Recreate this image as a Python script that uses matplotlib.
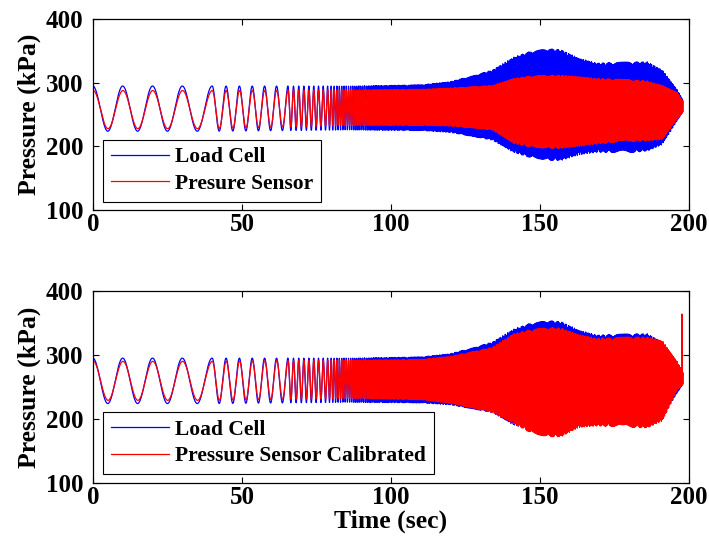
import matplotlib
matplotlib.use('Agg')
import matplotlib.pyplot as plt
import numpy as np

plt.rcParams['font.family'] = ['Liberation Serif', 'DejaVu Serif']
plt.rcParams['font.weight'] = 'bold'

# envelope knots (time in sec, pressure in kPa)
knot_t = [0, 40, 85, 110, 120, 134, 141, 147, 152, 157, 163, 169, 180, 186, 191, 196, 198]
load_hi = [295, 295, 295, 297, 302, 320, 340, 350, 354, 352, 339, 331, 333, 333, 320, 289, 272]
load_lo = [224, 224, 226, 225, 222, 210, 191, 182, 178, 178, 187, 191, 190, 193, 203, 241, 255]
sens_hi = [288, 288, 289, 290, 292, 296, 307, 311, 312, 312, 310, 307, 305, 303, 296, 285, 270]
sens_lo = [228, 228, 233, 233, 232, 226, 205, 199, 197, 197, 200, 204, 208, 209, 211, 243, 255]
cal_hi = [290, 290, 292, 293, 298, 312, 333, 340, 343, 342, 332, 326, 328, 328, 322, 289, 272]
cal_lo = [229, 229, 232, 230, 224, 210, 193, 178, 172, 172, 187, 189, 187, 186, 197, 245, 255]

# excitation frequency (Hz) read from peak spacing
freq_t = [0, 40, 40.1, 55, 65, 66, 78, 82, 100, 200]
freq_hz = [0.1, 0.1, 0.21, 0.24, 0.26, 0.55, 0.65, 1.2, 2.0, 3.0]

# calibrated sensor spikes at start and end
cal_start = [98, 330]
cal_end_spike = (197.6, 364)

t_end = 198.0
dt = 0.04
t = np.arange(0, t_end, dt)
f = np.interp(t, freq_t, freq_hz)
phase = 2 * np.pi * np.cumsum(f) * dt
phase = phase - phase[0]


def wave(hi, lo, lag=0.0):
    h = np.interp(t, knot_t, hi)
    l = np.interp(t, knot_t, lo)
    return (h + l) / 2 + (h - l) / 2 * np.cos(phase - lag)


load = wave(load_hi, load_lo)
sens = wave(sens_hi, sens_lo, 0.05)
cal = wave(cal_hi, cal_lo, 0.05)

t_cal = np.concatenate([[0, 0.01], t + 0.02])
cal = np.concatenate([cal_start, cal])
i = np.argmin(np.abs(t_cal - cal_end_spike[0]))
cal[i] = cal_end_spike[1]

fig = plt.figure(figsize=(7.09, 5.5), dpi=100)
ax1 = fig.add_axes([0.131, 0.618, 0.841, 0.347])
ax2 = fig.add_axes([0.131, 0.122, 0.841, 0.349])

ax1.plot(t, load, color='blue', lw=0.9, label='Load Cell')
ax1.plot(t, sens, color='red', lw=0.9, label='Presure Sensor')
ax2.plot(t, load, color='blue', lw=0.9, label='Load Cell')
ax2.plot(t_cal, cal, color='red', lw=0.9, label='Pressure Sensor Calibrated')

for ax, yb in ((ax1, 0.045), (ax2, 0.047)):
    ax.set_xlim(0, 200)
    ax.set_ylim(100, 400)
    ax.set_xticks([0, 50, 100, 150, 200])
    ax.set_yticks([100, 200, 300, 400])
    ax.tick_params(direction='in', top=True, right=True, length=4, width=0.8,
                   labelsize=18)
    ax.tick_params(axis='y', pad=7)
    ax.tick_params(axis='x', pad=2)
    for lab in ax.get_xticklabels() + ax.get_yticklabels():
        lab.set_fontweight('bold')
    for s in ax.spines.values():
        s.set_linewidth(0.9)
    ax.set_ylabel('Pressure (kPa)', fontsize=18.5, fontweight='bold', labelpad=3)
    leg = ax.legend(loc='lower left', bbox_to_anchor=(0.017, yb), fontsize=15.5,
                    fancybox=False, edgecolor='black', framealpha=1,
                    handlelength=2.7, borderaxespad=0, labelspacing=0.3,
                    borderpad=0.35, handletextpad=0.3)
    leg.get_frame().set_linewidth(0.8)
    for txt in leg.get_texts():
        txt.set_fontweight('bold')

ax2.set_xlabel('Time (sec)', fontsize=18.5, fontweight='bold', labelpad=1)

fig.savefig('out.png', dpi=100)
